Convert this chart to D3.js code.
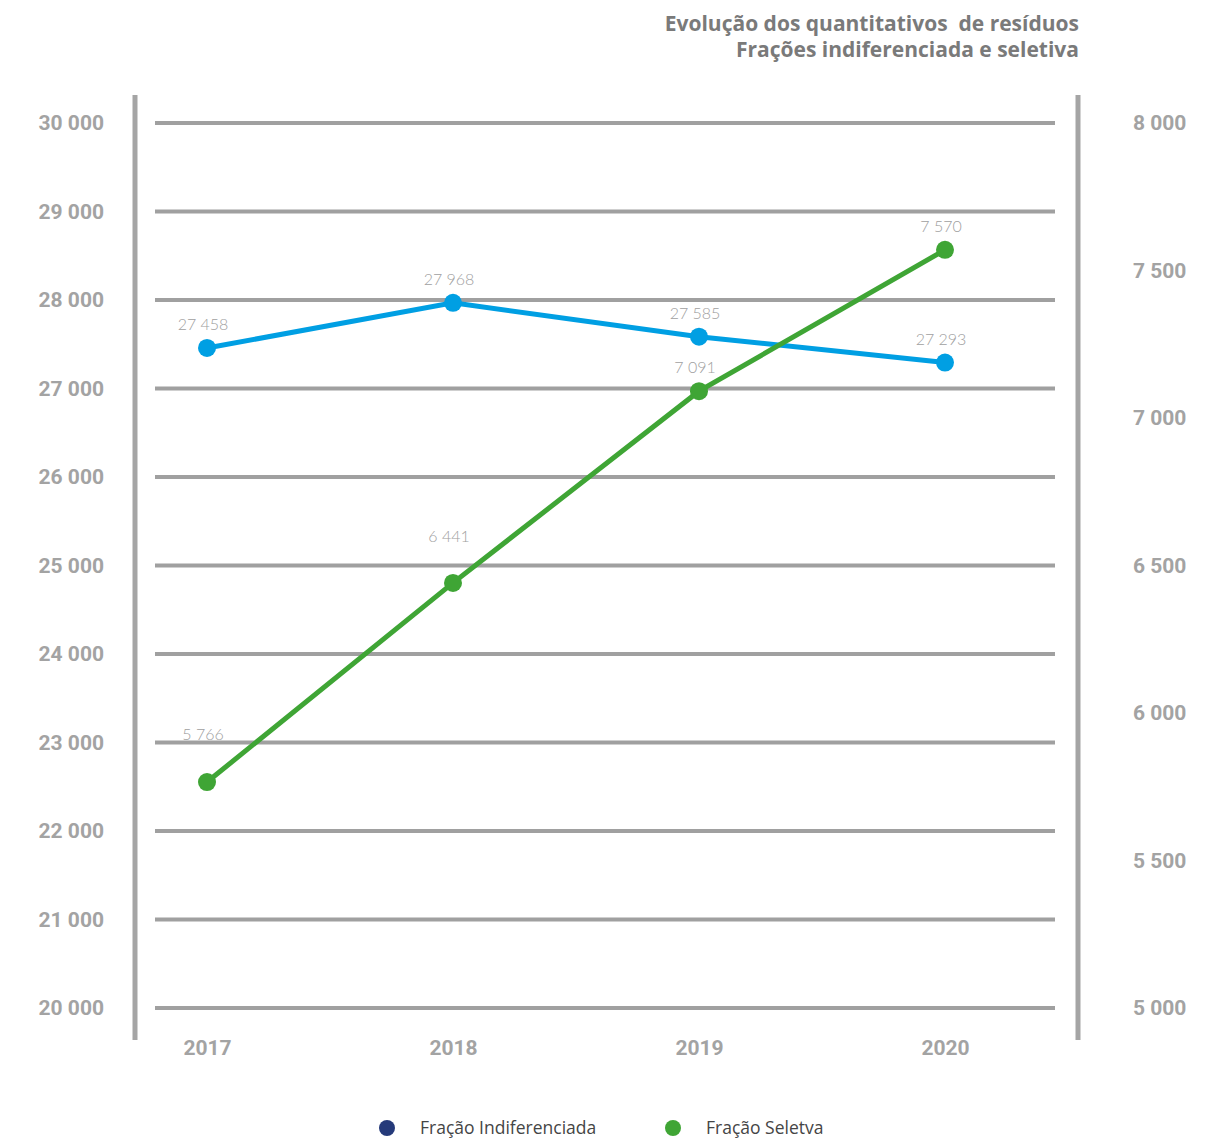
<!DOCTYPE html>
<html>
<head>
<meta charset="utf-8">
<script src="https://cdn.jsdelivr.net/npm/d3@7"></script>
<style>
  html, body { margin: 0; padding: 0; background: #ffffff; }
  svg { display: block; }
</style>
</head>
<body>
<svg id="chart" width="1231" height="1140"></svg>
<script>
// Waste quantities (tonnes) per year
const years = ["2017", "2018", "2019", "2020"];
const indiferenciada = [27458, 27968, 27585, 27293];
const seletiva = [5766, 6441, 7091, 7570];

const leftTicks = [20000, 21000, 22000, 23000, 24000, 25000, 26000, 27000, 28000, 29000, 30000];
const rightTicks = [5000, 5500, 6000, 6500, 7000, 7500, 8000];

const titleLines = ["Evolução dos quantitativos  de resíduos", "Frações indiferenciada e seletiva"];
const legendLabels = ["Fração Indiferenciada", "Fração Seletva"];

const colBlue = "#009fe3";
const colGreen = "#3fa535";
const colNavy = "#253a7a";
const colGrid = "#a0a0a0";
const colTick = "#a3a3a3";

const fmt = v => d3.format(",")(v).replace(/,/g, " ");

const svg = d3.select("#chart");

const x = d3.scalePoint().domain(years).range([207, 945]);
const yL = d3.scaleLinear().domain([20000, 30000]).range([1008, 123]);
const yR = d3.scaleLinear().domain([5000, 8000]).range([1008, 123]);

// Title
svg.append("g").selectAll("text").data(titleLines).join("text")
  .attr("x", 1079).attr("y", (d, i) => 31 + i * 26)
  .attr("text-anchor", "end")
  .style("white-space", "pre")
  .attr("font-family", "'Open Sans', sans-serif")
  .attr("font-weight", 700).attr("font-size", 21)
  .attr("fill", "#7a7a7a")
  .text(d => d);

// Horizontal grid lines
svg.append("g").selectAll("line").data(leftTicks).join("line")
  .attr("x1", 155).attr("x2", 1055)
  .attr("y1", d => yL(d)).attr("y2", d => yL(d))
  .attr("stroke", colGrid).attr("stroke-width", 4);

// Vertical axis bars
svg.append("g").selectAll("line").data([135, 1078]).join("line")
  .attr("x1", d => d).attr("x2", d => d)
  .attr("y1", 95).attr("y2", 1040)
  .attr("stroke", "#a5a5a5").attr("stroke-width", 5);

function styleTicks(g) {
  g.select(".domain").remove();
  g.selectAll("text")
    .attr("font-family", "Roboto, sans-serif").attr("font-weight", 700)
    .attr("font-size", 21).attr("fill", colTick);
}

// Left axis labels
const gL = svg.append("g").attr("transform", "translate(104,0)")
  .call(d3.axisLeft(yL).tickValues(leftTicks).tickFormat(fmt).tickSize(0).tickPadding(0));
styleTicks(gL);

// Right axis labels
const gR = svg.append("g").attr("transform", "translate(1133,0)")
  .call(d3.axisRight(yR).tickValues(rightTicks).tickFormat(fmt).tickSize(0).tickPadding(0));
styleTicks(gR);

// Year labels
const gX = svg.append("g").attr("transform", "translate(0,1040)")
  .call(d3.axisBottom(x).tickSize(0).tickPadding(0));
styleTicks(gX);

// Series: line, markers and value labels lifted clear of a rising next segment
function drawSeries(values, yScale, color) {
  const pts = years.map((yr, i) => ({ yr, v: values[i] }));
  const g = svg.append("g");
  g.append("path").datum(pts)
    .attr("d", d3.line().x(d => x(d.yr)).y(d => yScale(d.v)))
    .attr("fill", "none").attr("stroke", color).attr("stroke-width", 5);
  g.selectAll("circle").data(pts).join("circle")
    .attr("cx", d => x(d.yr)).attr("cy", d => yScale(d.v)).attr("r", 9)
    .attr("fill", color);
  const lift = (d, i) => {
    if (i >= pts.length - 1) return 0;
    const rise = (yScale(d.v) - yScale(pts[i + 1].v)) / (x(pts[i + 1].yr) - x(d.yr));
    return rise > 0.7 ? rise * 30 : 0;
  };
  g.selectAll("text").data(pts).join("text")
    .attr("x", d => x(d.yr) - 4).attr("y", (d, i) => yScale(d.v) - 18 - lift(d, i))
    .attr("text-anchor", "middle")
    .attr("font-family", "Lato, sans-serif").attr("font-weight", 300)
    .attr("font-size", 16).attr("fill", "#a0a0a0")
    .text(d => fmt(d.v));
}
drawSeries(indiferenciada, yL, colBlue);
drawSeries(seletiva, yR, colGreen);

// Legend
const legend = svg.append("g").selectAll("g").data(legendLabels).join("g")
  .attr("transform", (d, i) => `translate(${387 + i * 286},1128)`);
legend.append("circle").attr("r", 8).attr("fill", (d, i) => i === 0 ? colNavy : colGreen);
legend.append("text").attr("x", 33).attr("y", 6)
  .attr("font-family", "'Open Sans', sans-serif").attr("font-size", 17.5)
  .attr("fill", "#454545")
  .text(d => d);
</script>
</body>
</html>
